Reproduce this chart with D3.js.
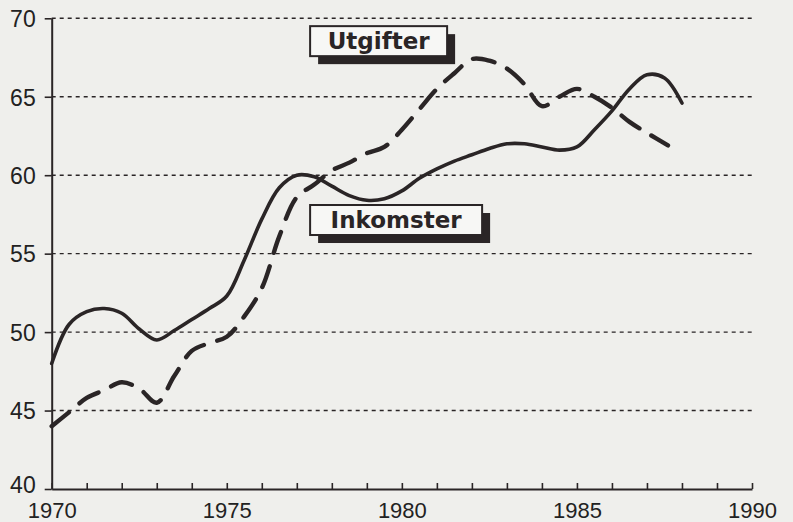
<!DOCTYPE html>
<html>
<head>
<meta charset="utf-8">
<script src="https://cdn.jsdelivr.net/npm/d3@7"></script>
<style>
  html, body { margin: 0; padding: 0; background: #efefec; }
  svg { display: block; }
</style>
</head>
<body>
<svg id="chart" width="793" height="522"></svg>
<script>
// ---- data ----
const yTicks = [40, 45, 50, 55, 60, 65, 70];
const xTickLabels = [1970, 1975, 1980, 1985, 1990];
const seriesNames = ["Inkomster", "Utgifter"];

const inkomsterYears = [1970, 1970.5, 1971, 1971.5, 1972, 1972.5, 1973, 1973.5, 1974, 1974.5,
  1975, 1975.5, 1976, 1976.5, 1977, 1977.5, 1978, 1978.5, 1979, 1979.5,
  1980, 1980.5, 1981, 1981.5, 1982, 1982.5, 1983, 1983.5, 1984, 1984.5,
  1985, 1985.5, 1986, 1986.5, 1987, 1987.5, 1988];
const inkomsterValues = [48.0, 50.5, 51.3, 51.5, 51.2, 50.2, 49.5, 50.1, 50.8, 51.5,
  52.3, 54.6, 57.2, 59.2, 60.0, 59.9, 59.3, 58.7, 58.4, 58.5,
  59.0, 59.8, 60.4, 60.9, 61.3, 61.7, 62.0, 62.0, 61.8, 61.6,
  61.8, 62.9, 64.1, 65.5, 66.4, 66.2, 64.6];

const utgifterYears = [1970, 1970.5, 1971, 1971.5, 1972, 1972.5, 1973, 1973.5, 1974, 1974.5,
  1975, 1975.5, 1976, 1976.5, 1977, 1977.5, 1978, 1978.5, 1979, 1979.5,
  1980, 1980.5, 1981, 1981.5, 1982, 1982.5, 1983, 1983.5, 1984, 1984.5,
  1985, 1985.5, 1986, 1986.5, 1987, 1987.6];
const utgifterValues = [44.0, 44.9, 45.8, 46.3, 46.8, 46.4, 45.5, 47.2, 48.8, 49.3,
  49.7, 51.0, 52.8, 56.1, 58.6, 59.4, 60.3, 60.8, 61.4, 61.8,
  62.9, 64.2, 65.5, 66.5, 67.4, 67.3, 66.8, 65.8, 64.4, 65.0,
  65.5, 65.0, 64.3, 63.4, 62.7, 61.9];

// ---- layout ----
const ink = "#2a2526";
const svg = d3.select("#chart");
const x = d3.scaleLinear().domain([1970, 1990]).range([51.7, 752]);
const y = d3.scaleLinear().domain([40, 70]).range([489, 18.3]);

// gridlines (dotted)
svg.append("g").selectAll("line").data(yTicks.filter(d => d > 40)).join("line")
  .attr("x1", x(1970)).attr("x2", x(1990))
  .attr("y1", d => y(d)).attr("y2", d => y(d))
  .attr("stroke", ink).attr("stroke-width", 1.4)
  .attr("stroke-dasharray", "4,4");

// y axis
const yAxis = d3.axisLeft(y).tickValues(yTicks).tickSize(7).tickSizeOuter(0).tickPadding(9);
const gy = svg.append("g").attr("transform", `translate(${x(1970)},0)`).call(yAxis);
gy.select(".domain").attr("stroke", ink).attr("stroke-width", 2);
gy.selectAll(".tick line").attr("stroke", ink).attr("stroke-width", 1.6);
gy.selectAll(".tick text").attr("fill", "#222").style("font-family", "'Liberation Sans', Arial, sans-serif")
  .style("font-size", "23px").attr("dy", d => d === 40 ? "0.16em" : "0.36em");

// x axis: minor yearly ticks pointing up
const xAxis = d3.axisBottom(x).tickValues(d3.range(1970, 1991, 1)).tickSize(0).tickSizeOuter(0)
  .tickFormat(d => xTickLabels.includes(d) ? d : "");
const gx = svg.append("g").attr("transform", `translate(0,${y(40)})`).call(xAxis);
gx.select(".domain").attr("stroke", ink).attr("stroke-width", 2);
gx.selectAll(".tick line").attr("y1", 0).attr("y2", -6).attr("stroke", ink).attr("stroke-width", 1.6);
gx.selectAll(".tick text").attr("fill", "#222").attr("y", 29).attr("dy", 0)
  .style("font-family", "'Liberation Sans', Arial, sans-serif").style("font-size", "22px");

// lines
const line = d3.line().x(d => x(d[0])).y(d => y(d[1])).curve(d3.curveCatmullRom.alpha(0.5));
const inkData = inkomsterYears.map((yr, i) => [yr, inkomsterValues[i]]);
const utgData = utgifterYears.map((yr, i) => [yr, utgifterValues[i]]);

svg.append("path").datum(inkData).attr("d", line)
  .attr("fill", "none").attr("stroke", ink).attr("stroke-width", 3.6)
  .attr("stroke-linejoin", "round").attr("stroke-linecap", "round");

svg.append("path").datum(utgData).attr("d", line)
  .attr("fill", "none").attr("stroke", ink).attr("stroke-width", 4.4)
  .attr("stroke-dasharray", "22,14").attr("stroke-linecap", "round");

// labels with shadow boxes
const labels = [
  { name: seriesNames[1], year: 1977.38, val: 69.5, w: 137 },
  { name: seriesNames[0], year: 1977.38, val: 58.1, w: 172 }
];
labels.forEach(l => {
  const bx = x(l.year), by = y(l.val), bh = 30;
  const g = svg.append("g");
  g.append("rect").attr("x", bx + 8).attr("y", by + 8).attr("width", l.w).attr("height", bh).attr("fill", ink);
  g.append("rect").attr("x", bx).attr("y", by).attr("width", l.w).attr("height", bh)
    .attr("fill", "#f7f7f5").attr("stroke", ink).attr("stroke-width", 2);
  g.append("text").attr("x", bx + l.w / 2).attr("y", by + 23).attr("text-anchor", "middle")
    .attr("fill", ink).style("font-family", "'DejaVu Sans', sans-serif").style("font-weight", "bold")
    .style("font-size", "23px").text(l.name);
});
</script>
</body>
</html>
